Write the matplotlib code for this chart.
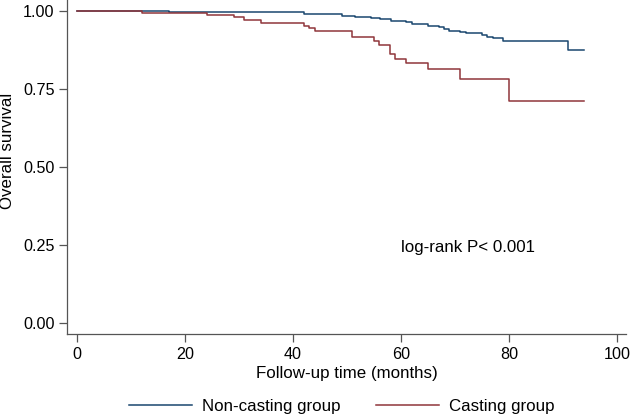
import matplotlib
matplotlib.use('Agg')
import matplotlib.pyplot as plt

# Kaplan-Meier step points (month, survival)
noncast_t = [0, 17, 28, 42, 49, 51.5, 54.5, 56.2, 58.1, 61, 62, 65, 67, 68, 69, 71, 72, 75, 76, 77, 79, 91, 94]
noncast_s = [1.0, 0.998, 0.995, 0.990, 0.985, 0.982, 0.977, 0.973, 0.969, 0.964, 0.958, 0.953, 0.948,
             0.942, 0.937, 0.933, 0.930, 0.923, 0.918, 0.912, 0.903, 0.874, 0.874]

cast_t = [0, 12, 24, 29, 31, 34, 42, 43, 44, 51, 55, 56, 58, 59, 61, 65, 71, 80, 94]
cast_s = [1.0, 0.993, 0.986, 0.979, 0.971, 0.962, 0.953, 0.946, 0.937, 0.915, 0.904, 0.890,
          0.863, 0.845, 0.833, 0.813, 0.781, 0.712, 0.712]

xticks = [0, 20, 40, 60, 80, 100]
yticks = [0.0, 0.25, 0.50, 0.75, 1.00]

blue = '#1a476f'
red = '#90353b'
fs = 12.2

plt.rcParams['font.family'] = ['Liberation Sans', 'DejaVu Sans']

fig = plt.figure(figsize=(6.3, 4.15), dpi=100)
ax = fig.add_axes([67 / 630, 1 - 334.3 / 415, 559 / 630, 334.3 / 415])

l1, = ax.step(noncast_t, noncast_s, where='post', color=blue, lw=1.1)
l2, = ax.step(cast_t, cast_s, where='post', color=red, lw=1.1)

ax.set_xlim(-1.85, 101.7)
ax.set_ylim(-0.035, 1.035)
ax.set_xticks(xticks)
ax.set_yticks(yticks)
ax.set_yticklabels(['%.2f' % v for v in yticks])

for s in ['top', 'right']:
    ax.spines[s].set_visible(False)
for s in ['left', 'bottom']:
    ax.spines[s].set_color('#555555')
    ax.spines[s].set_linewidth(0.9)
ax.tick_params(direction='out', length=5.5, width=0.9, color='#555555', labelsize=11.6, pad=3.5)

ax.text(60, 0.243, 'log-rank P< 0.001', fontsize=fs, ha='left', va='center')

fig.text(0.5 * (67 + 626) / 630, 1 - 373.3 / 415, 'Follow-up time (months)', fontsize=fs,
         ha='center', va='center')
fig.text(7.5 / 630, 1 - 150.8 / 415, 'Overall survival', fontsize=fs, rotation=90,
         ha='center', va='center')

fig.legend([l1, l2], ['Non-casting group', 'Casting group'], loc='center',
           bbox_to_anchor=(342 / 630, 1 - 406.7 / 415), ncol=2, frameon=False,
           fontsize=fs, handlelength=3.72, handletextpad=0.59, columnspacing=2.07)

fig.savefig('out.png', dpi=100)
